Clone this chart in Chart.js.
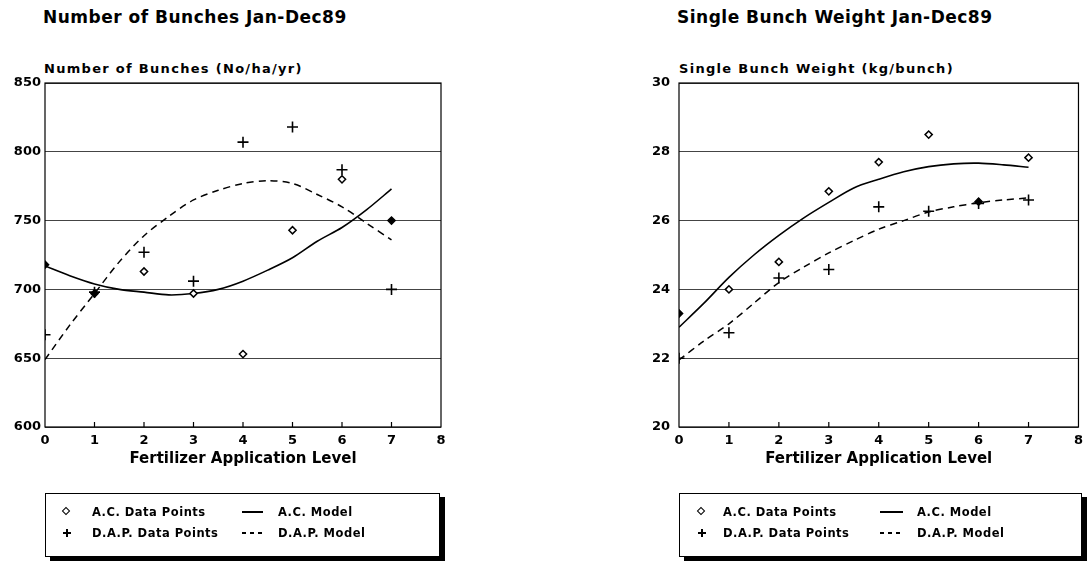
<!DOCTYPE html>
<html><head><meta charset="utf-8">
<script src="https://cdn.jsdelivr.net/npm/chart.js@4"></script>
<style>
html,body{margin:0;padding:0;background:#fff;overflow:hidden;}
body{width:1089px;height:565px;position:relative;font-family:"DejaVu Sans",sans-serif;font-weight:bold;color:#000;}
.t{position:absolute;white-space:nowrap;line-height:16px;}
.title{font-size:17px;letter-spacing:0.5px;}
.ytitle{font-size:13px;letter-spacing:1.3px;}
.lt{font-size:11.5px;letter-spacing:0.5px;line-height:14px;}
canvas{position:absolute;top:0;}
.box{position:absolute;border:1px solid #000;box-shadow:5px 4px 0 #000;background:#fff;box-sizing:border-box;}
.dia{position:absolute;width:4px;height:4px;border:1.5px solid #000;transform:rotate(45deg);background:#fff;}
.ph{position:absolute;width:8px;height:1.6px;background:#000;}
.pv{position:absolute;width:1.6px;height:8px;background:#000;}
.solid{position:absolute;height:1.5px;background:#000;}
.dash{position:absolute;height:1.5px;background:repeating-linear-gradient(90deg,#000 0 4px,transparent 4px 8px);}
</style></head>
<body>
<div class="t title" style="left:43px;top:9px;">Number of Bunches Jan-Dec89</div>
<div class="t ytitle" style="left:44px;top:61px;">Number of Bunches (No/ha/yr)</div>
<div class="t title" style="left:677px;top:9px;">Single Bunch Weight Jan-Dec89</div>
<div class="t ytitle" style="left:679px;top:61px;">Single Bunch Weight (kg/bunch)</div>

<canvas id="c1" width="545" height="565" style="left:0;width:545px;height:565px;"></canvas>
<canvas id="c2" width="544" height="565" style="left:545px;width:544px;height:565px;"></canvas>

<div class="box" style="left:45px;top:493px;width:395px;height:64px;"></div>
<div class="dia" style="left:63px;top:508px;"></div>
<div class="t lt" style="left:92px;top:505px;">A.C. Data Points</div>
<div class="solid" style="left:242px;top:511px;width:21px;"></div>
<div class="t lt" style="left:278px;top:505px;">A.C. Model</div>
<div class="ph" style="left:63px;top:532px;"></div><div class="pv" style="left:66.2px;top:529px;"></div>
<div class="t lt" style="left:92px;top:526px;">D.A.P. Data Points</div>
<div class="dash" style="left:242px;top:532px;width:23px;"></div>
<div class="t lt" style="left:278px;top:526px;">D.A.P. Model</div>

<div class="box" style="left:679px;top:493px;width:403px;height:64px;"></div>
<div class="dia" style="left:698px;top:508px;"></div>
<div class="t lt" style="left:723px;top:505px;">A.C. Data Points</div>
<div class="solid" style="left:880px;top:511px;width:23px;"></div>
<div class="t lt" style="left:917px;top:505px;">A.C. Model</div>
<div class="ph" style="left:698px;top:532px;"></div><div class="pv" style="left:701.2px;top:529px;"></div>
<div class="t lt" style="left:723px;top:526px;">D.A.P. Data Points</div>
<div class="dash" style="left:880px;top:532px;width:23px;"></div>
<div class="t lt" style="left:917px;top:526px;">D.A.P. Model</div>

<script>
// ---- data ----
const levels = [0, 1, 2, 3, 4, 5, 6, 7];
const modelLevels = [0, 0.5, 1, 1.5, 2, 2.5, 3, 3.5, 4, 4.5, 5, 5.5, 6, 6.5, 7];
const xTicks = [0, 1, 2, 3, 4, 5, 6, 7, 8];

const bunchesAC = [718, 697, 713, 697, 653, 743, 780, 750];
const bunchesDAP = [667, 698, 727, 706, 807, 818, 787, 700];
const bunchesACModel = [717, 710, 704, 700, 698, 696, 697, 700, 706, 714, 723, 735, 745, 758, 773];
const bunchesDAPModel = [649, 674, 697, 720, 739, 753, 765, 772, 777, 779, 777, 769, 760, 748, 736];
const bunchesTicks = [600, 650, 700, 750, 800, 850];

const weightAC = [23.3, 24.0, 24.8, 26.85, 27.7, 28.5, 26.55, 27.83];
const weightDAP = [22.0, 22.74, 24.33, 24.58, 26.4, 26.27, 26.5, 26.6];
const weightACModel = [22.9, 23.6, 24.35, 25.0, 25.57, 26.08, 26.53, 26.95, 27.2, 27.42, 27.57, 27.65, 27.67, 27.62, 27.55];
const weightDAPModel = [21.95, 22.5, 23.0, 23.6, 24.2, 24.65, 25.06, 25.42, 25.75, 26.0, 26.25, 26.4, 26.52, 26.6, 26.66];
const weightTicks = [20, 22, 24, 26, 28, 30];

const labels = ['A.C. Data Points', 'D.A.P. Data Points', 'A.C. Model', 'D.A.P. Model'];
const xTitle = 'Fertilizer Application Level';

// ---- helpers ----
const pairs = (xs, ys) => xs.map((x, i) => ({x, y: ys[i]}));

Chart.defaults.font.family = '"DejaVu Sans", sans-serif';
Chart.defaults.font.weight = 'bold';
Chart.defaults.color = '#000';

const framePlugin = {
  id: 'frame',
  beforeDatasetsDraw(chart) {
    const {ctx, chartArea: a, scales: {x}} = chart;
    ctx.save();
    ctx.strokeStyle = '#000';
    ctx.lineWidth = 1.2;
    ctx.strokeRect(a.left, a.top, a.right - a.left, a.bottom - a.top);
    ctx.beginPath();
    x.ticks.forEach(t => {
      if (t.value > x.min && t.value < x.max) {
        const px = x.getPixelForValue(t.value);
        ctx.moveTo(px, a.bottom);
        ctx.lineTo(px, a.bottom - 5);
      }
    });
    ctx.stroke();
    ctx.restore();
  }
};

function makeChart(id, ac, dap, acModel, dapModel, yTicks, yAxisWidth, padRight, yPad, filledIdx) {
  const yMin = yTicks[0], yMax = yTicks[yTicks.length - 1];
  const step = yTicks[1] - yTicks[0];
  return new Chart(document.getElementById(id), {
    type: 'scatter',
    data: {
      datasets: [
        {label: labels[0], data: pairs(levels, ac), pointStyle: 'rectRot', pointRadius: 3.6,
          pointBorderWidth: 1.5, pointBorderColor: '#000',
          pointBackgroundColor: c => filledIdx.includes(c.dataIndex) ? '#000' : '#fff', showLine: false},
        {label: labels[1], data: pairs(levels, dap), pointStyle: 'cross', pointRadius: 5.5,
          pointBorderWidth: 1.6, pointBorderColor: '#000', showLine: false},
        {label: labels[2], data: pairs(modelLevels, acModel), showLine: true, pointRadius: 0,
          borderColor: '#000', borderWidth: 1.6, tension: 0.3, fill: false},
        {label: labels[3], data: pairs(modelLevels, dapModel), showLine: true, pointRadius: 0,
          borderColor: '#000', borderWidth: 1.5, borderDash: [7, 5], tension: 0.3, fill: false}
      ]
    },
    options: {
      responsive: false,
      animation: false,
      layout: {padding: {left: 0, top: 83, right: padRight, bottom: 97}},
      plugins: {legend: {display: false}, tooltip: {enabled: false}},
      scales: {
        x: {
          type: 'linear', min: 0, max: 8,
          afterBuildTicks: s => { s.ticks = xTicks.map(v => ({value: v})); },
          afterFit: s => { s.height = 41; },
          grid: {display: false, drawTicks: false},
          border: {display: false},
          ticks: {padding: 6, font: {size: 13, weight: 'bold'}, color: '#000', maxRotation: 0},
          title: {display: true, text: xTitle, font: {size: 15, weight: 'bold'}, color: '#000', padding: {top: 0, bottom: 0}}
        },
        y: {
          type: 'linear', min: yMin, max: yMax,
          afterBuildTicks: s => { s.ticks = yTicks.map(v => ({value: v})); },
          afterFit: s => { s.width = yAxisWidth; },
          grid: {color: '#444', lineWidth: 1, drawTicks: false},
          border: {display: false},
          ticks: {padding: yPad, font: {size: 13, weight: 'bold'}, color: '#000', stepSize: step}
        }
      }
    },
    plugins: [framePlugin]
  });
}

makeChart('c1', bunchesAC, bunchesDAP, bunchesACModel, bunchesDAPModel, bunchesTicks, 45, 104, 4, [0, 1, 7]);
makeChart('c2', weightAC, weightDAP, weightACModel, weightDAPModel, weightTicks, 134, 4, 9, [0, 6]);
</script>
</body></html>
